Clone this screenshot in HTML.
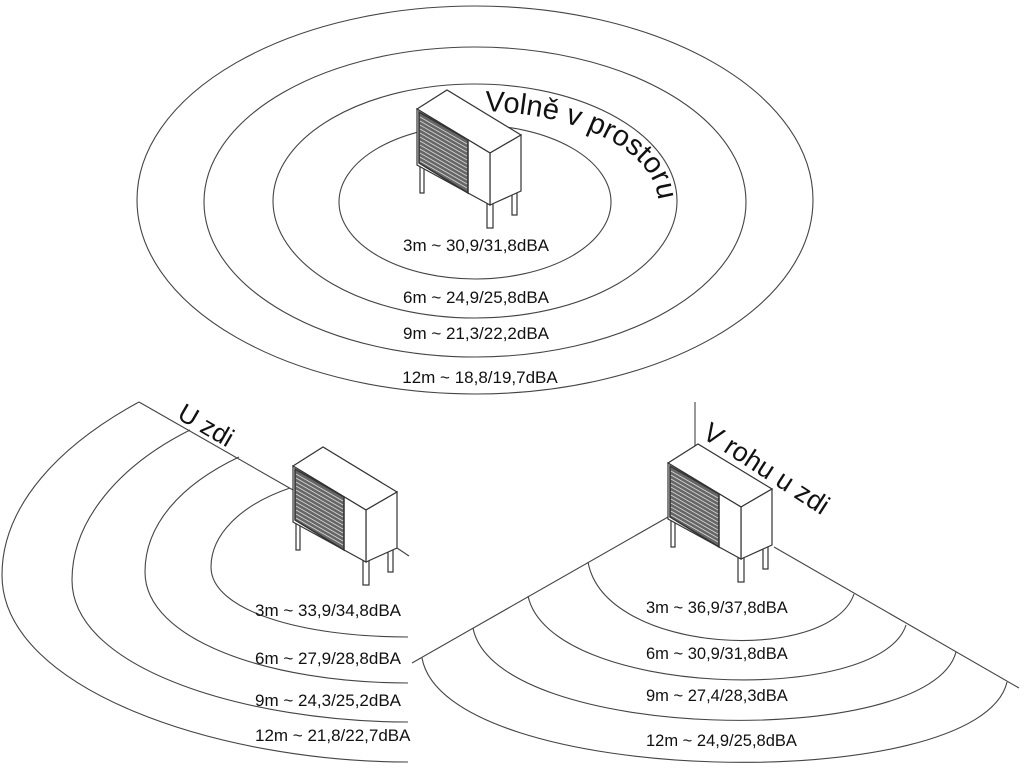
<!DOCTYPE html>
<html><head><meta charset="utf-8"><style>
html,body{margin:0;padding:0;background:#fff;}
svg{display:block;}
text{font-family:"Liberation Sans","DejaVu Sans",sans-serif;fill:#111;}
</style></head><body>
<svg width="1024" height="768" viewBox="0 0 1024 768" xmlns="http://www.w3.org/2000/svg">
<defs>
<g id="unit">
  <g fill="#fff" stroke="#333" stroke-width="1.2">
    <rect x="420" y="163" width="4" height="30"/>
    <rect x="512" y="190" width="5" height="25"/>
    <rect x="487" y="204" width="6" height="24"/>
    <polygon points="417,109 447,90 521,135 490,153"/>
    <polygon points="490,153 521,135 521,191 490,205"/>
    <polygon points="417,109 490,153 490,205 417,165"/>
  </g>
  <polygon points="419,112 468,140 468,193 419,163" fill="#666" stroke="#333" stroke-width="1.5"/>
  <g stroke="#d8d8d8" stroke-width="0.8">
    <line x1="420" y1="117" x2="467" y2="144"/>
    <line x1="420" y1="121" x2="467" y2="148"/>
    <line x1="420" y1="125" x2="467" y2="152"/>
    <line x1="420" y1="129" x2="467" y2="156"/>
    <line x1="420" y1="133" x2="467" y2="160"/>
    <line x1="420" y1="137" x2="467" y2="164"/>
    <line x1="420" y1="141" x2="467" y2="168"/>
    <line x1="420" y1="145" x2="467" y2="172"/>
    <line x1="420" y1="149" x2="467" y2="176"/>
    <line x1="420" y1="153" x2="467" y2="180"/>
    <line x1="420" y1="157" x2="467" y2="184"/>
    <line x1="420" y1="161" x2="467" y2="188"/>
  </g>
</g>
</defs>

<!-- TOP: free-standing -->
<g fill="none" stroke="#444" stroke-width="1.1">
  <ellipse cx="475" cy="200" rx="338" ry="194"/>
  <ellipse cx="475" cy="202" rx="271" ry="155"/>
  <ellipse cx="475" cy="201" rx="202" ry="117"/>
  <ellipse cx="475" cy="202" rx="136" ry="77"/>
</g>
<use href="#unit"/>
<path id="arcTop" d="M 475,111 A 183 91 0 0 1 658,202" fill="none"/>
<text font-size="29"><textPath href="#arcTop" startOffset="10">Volně v prostoru</textPath></text>
<g font-size="17" text-anchor="middle">
  <text x="476" y="251">3m ~ 30,9/31,8dBA</text>
  <text x="476" y="303">6m ~ 24,9/25,8dBA</text>
  <text x="476" y="339">9m ~ 21,3/22,2dBA</text>
  <text x="480" y="383">12m ~ 18,8/19,7dBA</text>
</g>

<!-- BOTTOM LEFT: at wall -->
<g fill="none" stroke="#444" stroke-width="1.1">
  <line x1="139" y1="402" x2="293" y2="490"/>
  <line x1="397" y1="548" x2="409" y2="556"/>
  <path d="M290,488 C240,505 211,535 211,567 C211,610 300,637 408,637"/>
  <path d="M239,457 C180,485 145,525 145,572 C145,640 270,683 408,683"/>
  <path d="M190,430 C120,465 72,520 72,580 C72,670 250,722 408,722"/>
  <path d="M139,402 C60,445 2,505 2,575 C2,690 220,762 408,762"/>
</g>
<use href="#unit" transform="translate(-124,357)"/>
<text font-size="26" transform="translate(176,418) rotate(30)">U zdi</text>
<g font-size="17">
  <text x="255" y="616">3m ~ 33,9/34,8dBA</text>
  <text x="255" y="664">6m ~ 27,9/28,8dBA</text>
  <text x="255" y="706">9m ~ 24,3/25,2dBA</text>
  <text x="255" y="741">12m ~ 21,8/22,7dBA</text>
</g>

<!-- BOTTOM RIGHT: corner -->
<g fill="none" stroke="#444" stroke-width="1.1">
  <line x1="695" y1="402" x2="695" y2="448"/>
  <line x1="668" y1="517" x2="412" y2="663"/>
  <line x1="774" y1="547" x2="1019" y2="688"/>
  <path d="M588,562 C605,655 830,665 854,594"/>
  <path d="M528,596 C550,697 880,707 906,625"/>
  <path d="M473,628 C495,742 930,751 956,652"/>
  <path d="M422,658 C445,787 980,798 1007,682"/>
</g>
<use href="#unit" transform="translate(251,354)"/>
<text font-size="27" transform="translate(701,437) rotate(33)">V rohu u zdi</text>
<g font-size="16.5">
  <text x="646" y="613">3m ~ 36,9/37,8dBA</text>
  <text x="646" y="659">6m ~ 30,9/31,8dBA</text>
  <text x="646" y="701">9m ~ 27,4/28,3dBA</text>
  <text x="646" y="746">12m ~ 24,9/25,8dBA</text>
</g>
</svg>
</body></html>
